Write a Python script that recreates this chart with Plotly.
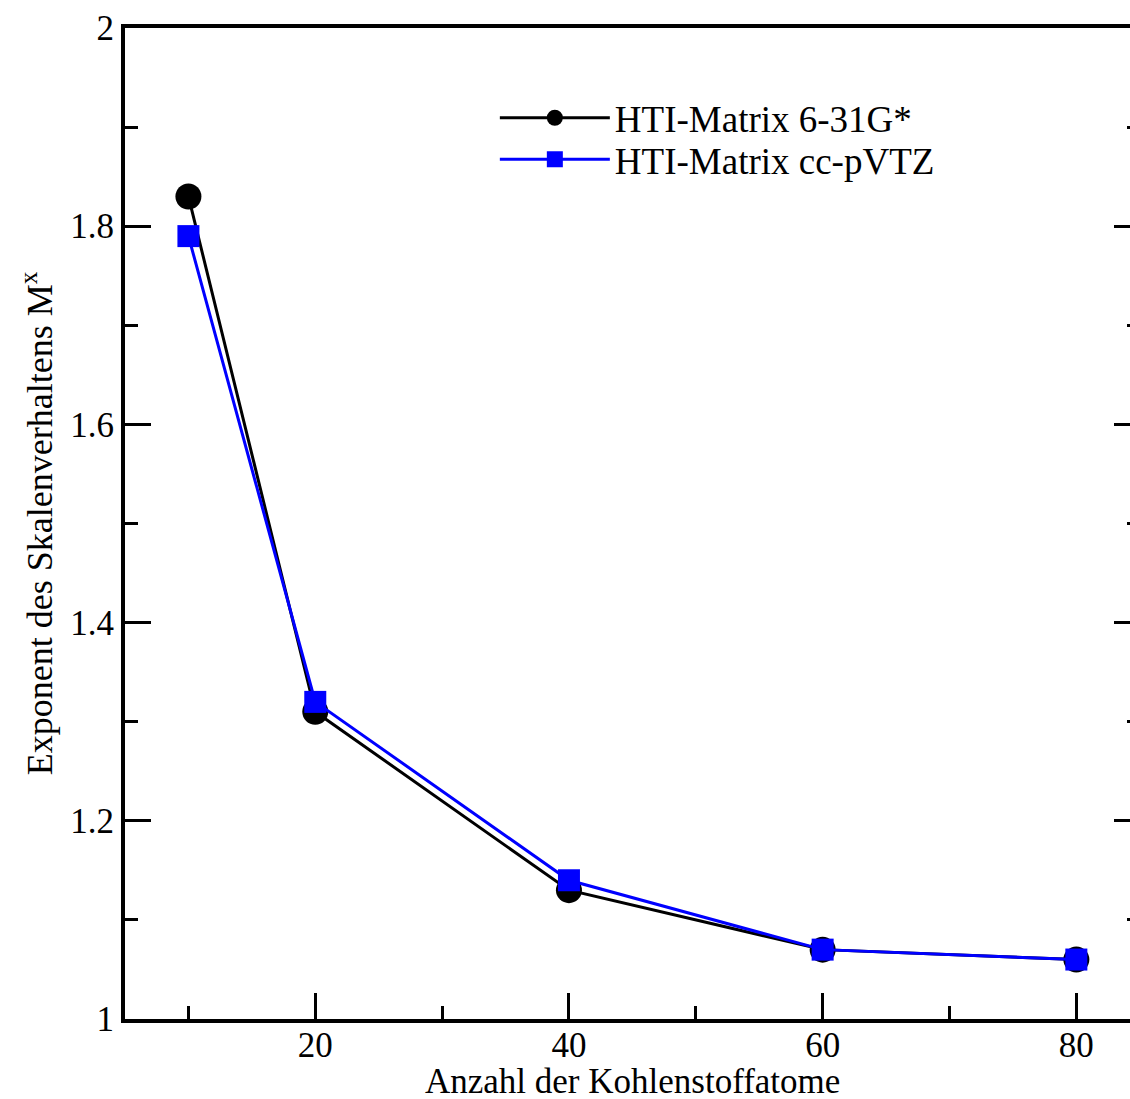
import plotly.graph_objects as go

atoms = [10, 20, 40, 60, 80]
hti_631g = [1.83, 1.31, 1.13, 1.07, 1.06]
hti_ccpvtz = [1.79, 1.32, 1.14, 1.07, 1.06]

FONT = "Liberation Serif, Times New Roman, serif"

fig = go.Figure()
fig.add_trace(go.Scatter(x=atoms, y=hti_631g, mode="lines+markers", name="HTI-Matrix 6-31G*",
                         legend="legend",
                         line=dict(color="black", width=3),
                         marker=dict(symbol="circle", size=26, color="black")))
fig.add_trace(go.Scatter(x=atoms, y=hti_ccpvtz, mode="lines+markers", name="HTI-Matrix cc-pVTZ",
                         legend="legend2",
                         line=dict(color="#0000ff", width=3),
                         marker=dict(symbol="square", size=22, color="#0000ff")))
# invisible trace to carry the right-hand tick axis
fig.add_trace(go.Scatter(x=atoms, y=hti_631g, mode="markers", yaxis="y2", showlegend=False,
                         hoverinfo="skip", marker=dict(opacity=0)))

leg_common = dict(x=0.368, xanchor="left", yanchor="middle", bgcolor="rgba(0,0,0,0)",
                  font=dict(family=FONT, size=37, color="black"), itemwidth=110)

fig.update_layout(
    width=1130, height=1099,
    margin=dict(l=125, r=0, t=28, b=80),
    paper_bgcolor="white", plot_bgcolor="white",
    font=dict(family=FONT, size=35, color="black"),
    showlegend=True,
    legend=dict(y=0.909, **leg_common),
    legend2=dict(y=0.867, **leg_common),
    xaxis=dict(range=[5, 84.23], tick0=0, dtick=20, ticks="inside", ticklen=26, tickwidth=3,
               tickcolor="black", showline=True, linewidth=4, linecolor="black", mirror=True,
               showgrid=False, zeroline=False, ticklabelstandoff=-8,
               minor=dict(dtick=10, tick0=0, ticks="inside", ticklen=13, tickwidth=3, tickcolor="black"),
               tickfont=dict(family=FONT, size=35)),
    yaxis=dict(range=[1, 2], tick0=1, dtick=0.2, ticks="inside", ticklen=26, tickwidth=3,
               tickcolor="black", showline=True, linewidth=4, linecolor="black",
               showgrid=False, zeroline=False,
               minor=dict(dtick=0.1, tick0=1, ticks="inside", ticklen=13, tickwidth=3, tickcolor="black"),
               title=dict(text="Exponent des Skalenverhaltens M<sup>x</sup>", font=dict(family=FONT, size=36), standoff=8),
               tickfont=dict(family=FONT, size=35)),
    yaxis2=dict(range=[1, 2], tick0=1, dtick=0.2, overlaying="y", side="right", ticks="inside",
                ticklen=16, tickwidth=3, tickcolor="black", showline=False, showgrid=False,
                zeroline=False, showticklabels=False,
                minor=dict(dtick=0.1, tick0=1, ticks="inside", ticklen=3, tickwidth=3, tickcolor="black")),
    annotations=[dict(text="Anzahl der Kohlenstoffatome", xref="paper", yref="paper",
                      x=0.5, y=0, xshift=5, yshift=-62, xanchor="center", yanchor="middle",
                      showarrow=False, font=dict(family=FONT, size=35, color="black"))],
)

fig.write_html("out.html")
